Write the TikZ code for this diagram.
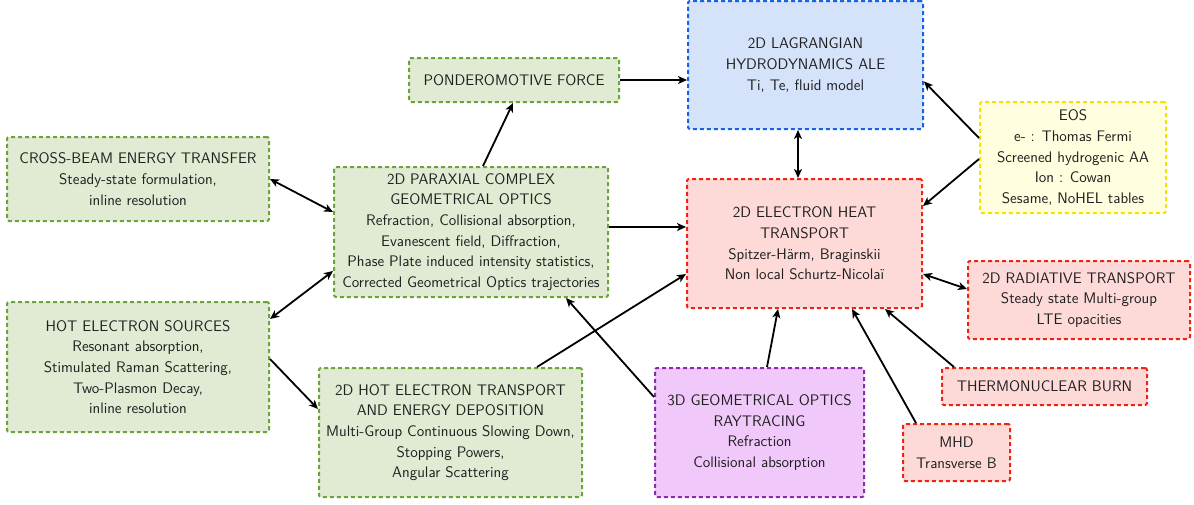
\documentclass[tikz,border=0pt]{standalone}
\usetikzlibrary{arrows.meta}
\definecolor{gfill}{HTML}{E1EBD4}
\definecolor{gline}{HTML}{6BA539}
\definecolor{bfill}{HTML}{D4E2FA}
\definecolor{bline}{HTML}{1763E6}
\definecolor{rfill}{HTML}{FDDAD8}
\definecolor{rline}{HTML}{EE2412}
\definecolor{yfill}{HTML}{FFFFDF}
\definecolor{yline}{HTML}{F2E400}
\definecolor{pfill}{HTML}{F0C9FA}
\definecolor{pline}{HTML}{8B2BB0}
\tikzset{
  boxbase/.style={draw, line width=2pt, dash pattern=on 4pt off 3pt, rounded corners=2pt,
    align=center, inner sep=0pt, text=black!88,
    font=\sffamily\fontsize{15.3}{20.7}\selectfont},
  gbox/.style={boxbase, fill=gfill, draw=gline},
  bbox/.style={boxbase, fill=bfill, draw=bline},
  rbox/.style={boxbase, fill=rfill, draw=rline},
  ybox/.style={boxbase, fill=yfill, draw=yline},
  pbox/.style={boxbase, fill=pfill, draw=pline},
  conn/.style={line width=1.8pt, -{Stealth[length=9pt,width=8pt,inset=2.5pt]}},
  dconn/.style={line width=1.8pt, {Stealth[length=9pt,width=8pt,inset=2.5pt]}-{Stealth[length=9pt,width=8pt,inset=2.5pt]}},
}
\begin{document}
\begin{tikzpicture}[x=1pt,y=-1pt]
\useasboundingbox (0,0) rectangle (1194,504);
\node[gbox, minimum width=262pt, minimum height=84pt] (cross) at (138,179)
  {CROSS-BEAM ENERGY TRANSFER\\Steady-state formulation,\\inline resolution};
\node[gbox, minimum width=262pt, minimum height=130pt] (hotsrc) at (138,367)
  {HOT ELECTRON SOURCES\\Resonant absorption,\\Stimulated Raman Scattering,\\Two-Plasmon Decay,\\inline resolution};
\node[gbox, minimum width=210pt, minimum height=44pt] (pond) at (514,80)
  {PONDEROMOTIVE FORCE};
\node[gbox, minimum width=274pt, minimum height=130pt] (parax) at (471,232)
  {2D PARAXIAL COMPLEX\\GEOMETRICAL OPTICS\\Refraction, Collisional absorption,\\Evanescent field, Diffraction,\\Phase Plate induced intensity statistics,\\Corrected Geometrical Optics trajectories};
\node[gbox, minimum width=263pt, minimum height=129pt] (hottr) at (450.5,432.5)
  {2D HOT ELECTRON TRANSPORT\\AND ENERGY DEPOSITION\\Multi-Group Continuous Slowing Down,\\Stopping Powers,\\Angular Scattering};
\node[bbox, minimum width=235pt, minimum height=128pt] (lag) at (805.5,65)
  {2D LAGRANGIAN\\HYDRODYNAMICS ALE\\Ti, Te, fluid model};
\node[rbox, minimum width=235pt, minimum height=129pt] (eheat) at (804.5,243.5)
  {2D ELECTRON HEAT\\TRANSPORT\\Spitzer-Härm, Braginskii\\Non local Schurtz-Nicolaï};
\node[ybox, minimum width=186pt, minimum height=111pt] (eos) at (1073,157.5)
  {EOS\\e- : Thomas Fermi\\Screened hydrogenic AA\\Ion : Cowan\\Sesame, NoHEL tables};
\node[rbox, minimum width=222pt, minimum height=78pt] (rad) at (1079,300)
  {2D RADIATIVE TRANSPORT\\Steady state Multi-group\\LTE opacities};
\node[rbox, minimum width=205pt, minimum height=37pt] (thermo) at (1044.5,386.5)
  {THERMONUCLEAR BURN};
\node[rbox, minimum width=107pt, minimum height=57pt] (mhd) at (956.5,452.5)
  {MHD\\Transverse B};
\node[pbox, minimum width=209pt, minimum height=129pt] (geo) at (759.5,432.5)
  {3D GEOMETRICAL OPTICS\\RAYTRACING\\Refraction\\Collisional absorption};

\draw[dconn] (cross.east) -- ([yshift=20pt]parax.west);
\draw[dconn] ([yshift=-39pt]parax.west) -- ([yshift=48pt]hotsrc.east);
\draw[conn] ([yshift=8pt]hotsrc.east) -- ([yshift=23.5pt]hottr.west);
\draw[conn] ([xshift=12pt]parax.north) -- ([xshift=-1pt]pond.south);
\draw[conn] (pond.east) -- (pond.east -| lag.west);
\draw[conn] ([yshift=5pt]parax.east) -- ([yshift=5pt]parax.east -| eheat.west);
\draw[conn] ([xshift=86.5pt]hottr.north) -- ([yshift=-30.5pt]eheat.west);
\draw[conn] ([yshift=35.5pt]geo.west) -- ([xshift=95pt]parax.south);
\draw[dconn] ([xshift=-7.5pt]lag.south) -- ([xshift=-6.5pt]eheat.north);
\draw[conn] ([yshift=19.5pt]eos.west) -- ([yshift=-16.5pt]lag.east);
\draw[conn] ([yshift=-1.5pt]eos.west) -- ([yshift=37.5pt]eheat.east);
\draw[dconn] ([yshift=-30.5pt]eheat.east) -- ([yshift=11pt]rad.west);
\draw[conn] ([xshift=7.5pt]geo.north) -- ([xshift=-26.5pt]eheat.south);
\draw[conn] ([xshift=-40.5pt]mhd.north) -- ([xshift=47.5pt]eheat.south);
\draw[conn] ([xshift=-90.5pt]thermo.north) -- ([xshift=80.5pt]eheat.south);
\end{tikzpicture}
\end{document}
